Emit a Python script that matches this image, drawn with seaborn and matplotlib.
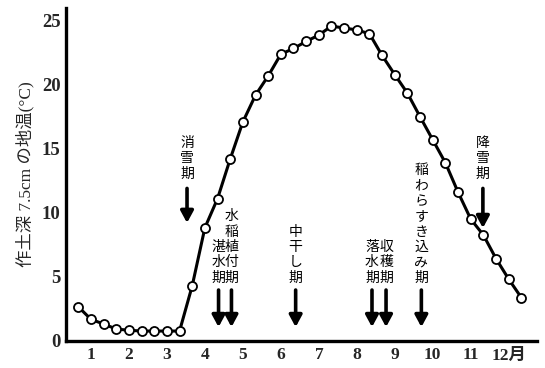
import numpy as np
import pandas as pd
import matplotlib
matplotlib.use("Agg")
import matplotlib.pyplot as plt
import seaborn as sns

# ---- data ----
months = list(range(1, 13))
decades = [0, 1, 2]  # 上旬, 中旬, 下旬
temps = [2.64, 1.66, 1.29,
         0.90, 0.80, 0.74,
         0.74, 0.74, 0.74,
         4.28, 8.82, 11.1,
         14.2, 17.1, 19.2,
         20.7, 22.4, 22.85,
         23.4, 23.9, 24.6,
         24.45, 24.3, 24.0,
         22.3, 20.8, 19.35,
         17.5, 15.7, 13.9,
         11.6, 9.5, 8.25,
         6.4, 4.8, 3.35]
month_labels = ["1", "2", "3", "4", "5", "6", "7", "8", "9", "10", "11", "12月"]
y_ticks = [0, 5, 10, 15, 20, 25]

# events: label, position (month coordinate)
event_names_low = ["湛水期", "水稲植付期", "中干し期", "落水期", "収穫期", "稲わらすき込み期"]
event_pos_low = [4.36, 4.70, 6.39, 8.40, 8.77, 9.70]
event_names_high = ["消雪期", "降雪期"]
event_pos_high = [3.53, 11.32]
event_tip_high = [9.2, 8.8]

sns.set_style("white")
plt.rcParams["font.family"] = ["Liberation Serif", "Noto Sans CJK JP"]

xs = [m - 0.5 + (d + 0.5) / 3 for m in months for d in decades]
df = pd.DataFrame({"x": xs, "temp": temps})

fig = plt.figure(figsize=(5.45, 3.68), dpi=100)
ax = fig.add_axes([0.121, 0.0747, 0.864, 0.903])

sns.lineplot(data=df, x="x", y="temp", ax=ax, color="black", lw=2.2,
             marker="o", markersize=6.5, markerfacecolor="white",
             markeredgecolor="black", markeredgewidth=1.3)

ax.set_xlim(0.342, 12.74)
ax.set_ylim(0, 26.0)

ax.set_xticks(months)
ax.set_xticklabels(month_labels, fontsize=12.5, fontweight="bold")
ax.set_xticks([m + 0.5 for m in months], minor=True)
ax.tick_params(axis="x", which="major", length=0, pad=5)
ax.tick_params(axis="x", which="minor", direction="in", length=5, width=1.8)
ax.set_yticks(y_ticks)
ax.set_yticklabels([str(v) for v in y_ticks], fontsize=13.5, fontweight="bold")
ax.tick_params(axis="y", direction="in", length=5, width=1.8, pad=4)

for s in ["top", "right"]:
    ax.spines[s].set_visible(False)
for s in ["left", "bottom"]:
    ax.spines[s].set_linewidth(2.4)
    ax.spines[s].set_color("black")

ax.set_xlabel("")
ax.set_ylabel("作土深 7.5cm の地温(°C)", fontsize=12.5, labelpad=5)

arrow_kw = dict(arrowstyle="-|>,head_length=0.7,head_width=0.38", lw=2.6,
                color="black", shrinkA=0, shrinkB=0, mutation_scale=10)

def vtext(x, y, s):
    ax.text(x, y, "\n".join(s), ha="center", va="bottom", fontsize=10,
            linespacing=1.24, color="black")

for name, pos in zip(event_names_low, event_pos_low):
    ax.annotate("", xy=(pos, 1.05), xytext=(pos, 3.95), arrowprops=arrow_kw)
    vtext(pos, 4.35, name)

for name, pos, tip in zip(event_names_high, event_pos_high, event_tip_high):
    ax.annotate("", xy=(pos, tip), xytext=(pos, 11.9), arrowprops=arrow_kw)
    vtext(pos, 12.5, name)

fig.savefig("out.png", dpi=100)
